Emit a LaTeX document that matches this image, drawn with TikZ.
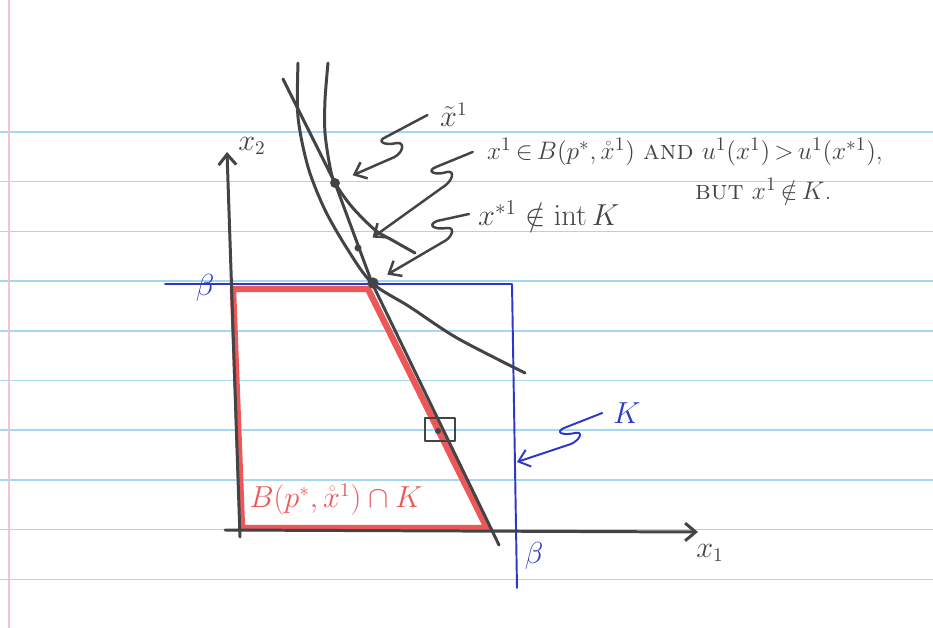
\documentclass[tikz,border=0pt]{standalone}
\usepackage{amsmath, amssymb}
\usepackage{xcolor}
\usepackage{tikz}
\usetikzlibrary{arrows.meta,positioning,calc}

\definecolor{penblack}{RGB}{68,68,70}
\definecolor{penblue}{RGB}{45,55,200}
\definecolor{penred}{RGB}{236,88,88}
\definecolor{ruleblue}{RGB}{165,215,242}
\definecolor{marginpink}{RGB}{246,196,206}
\newcommand{\tightmath}{\thickmuskip=3mu\relax\medmuskip=2mu\relax}

\begin{document}
\begin{tikzpicture}[
    x=0.02cm, y=-0.02cm,
    pen/.style={draw=penblack, line width=1.7pt, line cap=round, line join=round},
    bluepen/.style={draw=penblue, line width=1.1pt, line cap=round, line join=round},
    redpen/.style={draw=penred, line width=3.6pt, line join=round},
    squig/.style={pen, line width=1.4pt, -{Straight Barb[length=6pt,width=10pt]}},
    bluesquig/.style={squig, draw=penblue, line width=1.1pt},
    lbl/.style={text=penblack, font=\fontsize{16}{19}\selectfont, inner sep=1pt},
    note/.style={lbl, font=\fontsize{15.5}{18.5}\selectfont\tightmath},
    penpoint/.style={circle, fill=penblack, inner sep=0pt, minimum size=#1}
]

% Paper
\fill[white] (0,0) rectangle (933,628);
\useasboundingbox (0,0) rectangle (933,628);
\foreach \i in {0,...,9}
    \draw[ruleblue, line width=0.8pt] (0,{132+49.7*\i}) -- (933,{132+49.7*\i});
\draw[marginpink, line width=1pt] (9,0) -- (9,628);

% Feasible part of the budget set
\draw[redpen] (233,289) -- (368,289) -- (487,528) -- (242,528) -- cycle;

% The box K
\draw[bluepen] (165,284) -- (512,284) -- (517,588);

% Axes
\draw[pen, -{Straight Barb[length=6pt,width=10pt]}] (240,537) -- (227,152);
\draw[pen, -{Straight Barb[length=6pt,width=10pt]}] (225,530) -- (698,532);
\node[lbl] (xtwo) at (252,146) {$x_2$};
\node[lbl] (xonelbl) at (710,553) {$x_1$};
\node[lbl, text=penblue] (betatop) at (205,288) {$\beta$};
\node[lbl, text=penblue] (betabot) at (534,556) {$\beta$};

% Budget line and indifference curves
\draw[pen] (283,79) -- (335,183) -- (372,283) -- (499,545);
\draw[pen] plot[smooth] coordinates {(298,63) (298,117) (308,167) (325,210) (348,250) (372,283) (410,307) (457,338) (525,373)};
\draw[pen] plot[smooth] coordinates {(328,63) (325,100) (325,133) (330,167) (335,183) (352,207) (375,230) (392,240) (415,253)};

% Points
\node[penpoint=5.6pt] (xtilde) at (335,183) {};
\node[penpoint=4pt] (xone) at (358,248) {};
\node[penpoint=6.4pt] (xstar) at (373,283) {};
\node[penpoint=3.4pt] (xsq) at (438,431) {};
\draw[pen, line width=1.2pt] (425,418) rectangle (455,441);

% Labels
\node[lbl, anchor=west] (xtl) at (438,115) {$\tilde{x}^1$};
\node[note, anchor=west] (inB) at (485,152) {$x^1\in B(p^*,\mathring{x}^1)$ \textsc{and} $u^1(x^1)>u^1(x^{*1})$,};
\node[note, anchor=base west] (butK) at (693,200) {\textsc{but} $x^1\notin K$.};
\node[lbl, anchor=west, font=\fontsize{17}{20}\selectfont] (notint) at (476,214) {$x^{*1}\notin\mathrm{int}\,K$};
\node[lbl, anchor=west, text=penblue] (Klbl) at (611,413) {$K$};
\node[lbl, text=penred] (BK) at (336,500) {$B(p^*,\mathring{x}^1)\cap K$};

% Squiggle arrows
\draw[squig, shorten >=8pt] ([xshift=-6pt]xtl.west) -- (386,137) .. controls (376,141) and (384,146) .. (397,143)
    .. controls (406,142) and (403,155) .. (390,159) -- (xtilde);
\draw[squig, shorten >=8pt] ([xshift=-7pt]inB.west) -- (436,167) .. controls (426,171) and (434,176) .. (447,172)
    .. controls (456,170) and (452,182) .. (443,187) -- (xone);
\draw[squig, shorten >=6pt] ([xshift=-4pt]notint.west) -- (437,221) .. controls (427,225) and (434,230) .. (447,228)
    .. controls (456,227) and (452,238) .. (443,242) -- (xstar);
\coordinate (Kedge) at (517,462);
\draw[bluesquig] ([xshift=-5pt]Klbl.west) -- (564,428) .. controls (555,432) and (562,436) .. (575,433)
    .. controls (584,431) and (580,440) .. (571,444) -- (Kedge);

\end{tikzpicture}
\end{document}
